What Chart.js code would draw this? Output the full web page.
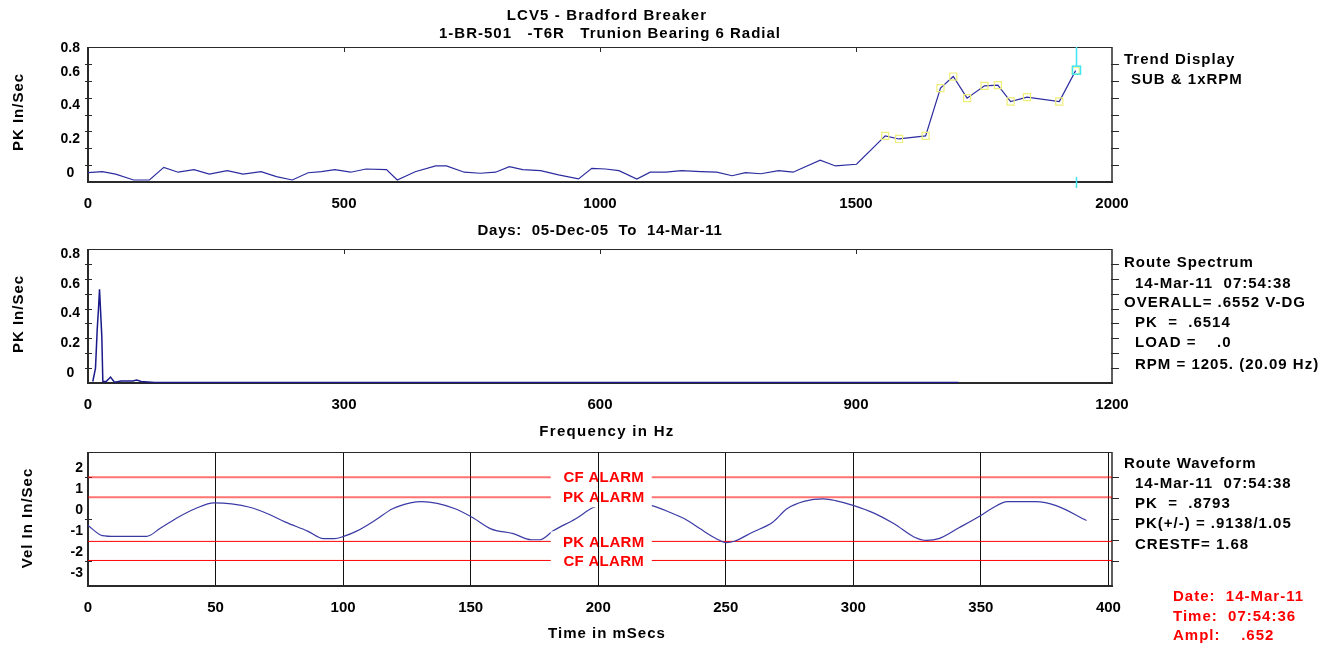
<!DOCTYPE html>
<html><head><meta charset="utf-8">
<script src="https://cdn.jsdelivr.net/npm/chart.js@4.4.1/dist/chart.umd.min.js"></script>
<style>
html,body{margin:0;padding:0;background:#fff;width:1334px;height:647px;overflow:hidden;}
#wrap{position:relative;width:1334px;height:647px;font-family:'Liberation Sans',Arial,sans-serif;font-weight:bold;font-size:15px;color:#000;}
canvas{position:absolute;left:0;}
.t{position:absolute;white-space:pre;line-height:18px;letter-spacing:1px;}
.c{transform:translateX(-50%);}
.r{position:absolute;white-space:pre;line-height:18px;letter-spacing:1px;transform:translate(-50%,-50%) rotate(-90deg);}
.red{color:#ff0000;}
</style></head><body><div id="wrap">
<canvas id="c1" width="1334" height="215" style="top:0px"></canvas>
<canvas id="c2" width="1334" height="190" style="top:225px"></canvas>
<canvas id="c3" width="1334" height="200" style="top:425px"></canvas>

<div class="t c" style="left:607px;top:6px;letter-spacing:1.1px">LCV5 - Bradford Breaker</div>
<div class="t c" style="left:610px;top:24px">1-BR-501   -T6R   Trunion Bearing 6 Radial</div>
<div class="t c" style="left:600px;top:221px;letter-spacing:0.7px">Days:  05-Dec-05  To  14-Mar-11</div>
<div class="t c" style="left:607px;top:422px;letter-spacing:1.3px">Frequency in Hz</div>
<div class="t c" style="left:607px;top:624px">Time in mSecs</div>

<div class="r" style="left:18px;top:112px">PK In/Sec</div>
<div class="r" style="left:18px;top:314px">PK In/Sec</div>
<div class="r" style="left:27px;top:518px">Vel In In/Sec</div>

<div class="t" style="left:1124px;top:50px">Trend Display</div>
<div class="t" style="left:1131px;top:70px">SUB &amp; 1xRPM</div>

<div class="t" style="left:1124px;top:253px">Route Spectrum</div>
<div class="t" style="left:1135px;top:274px">14-Mar-11  07:54:38</div>
<div class="t" style="left:1124px;top:293px">OVERALL= .6552 V-DG</div>
<div class="t" style="left:1135px;top:313px">PK  =  .6514</div>
<div class="t" style="left:1135px;top:333px">LOAD =    .0</div>
<div class="t" style="left:1135px;top:355px">RPM = 1205. (20.09 Hz)</div>

<div class="t" style="left:1124px;top:454px">Route Waveform</div>
<div class="t" style="left:1135px;top:474px">14-Mar-11  07:54:38</div>
<div class="t" style="left:1135px;top:494px">PK  =  .8793</div>
<div class="t" style="left:1135px;top:514px">PK(+/-) = .9138/1.05</div>
<div class="t" style="left:1135px;top:535px">CRESTF= 1.68</div>

<div class="t red" style="left:1173px;top:587px">Date:  14-Mar-11</div>
<div class="t red" style="left:1173px;top:607px">Time:  07:54:36</div>
<div class="t red" style="left:1173px;top:626px">Ampl:    .652</div>
</div>
<script>
// ---------------- DATA ----------------
const trendDays = [0,28,54,89,120,148,176,207,237,272,303,338,368,399,430,456,482,513,543,583,604,639,679,700,735,766,796,823,849,884,919,958,984,1011,1037,1072,1098,1129,1159,1197,1228,1258,1284,1314,1349,1377,1430,1460,1501,1557,1584,1636,1665,1690,1717,1751,1777,1802,1834,1897,1929];
const trendValues = [0.055,0.061,0.047,0.012,0.012,0.087,0.058,0.073,0.047,0.067,0.047,0.061,0.032,0.012,0.055,0.061,0.073,0.058,0.077,0.073,0.012,0.061,0.095,0.095,0.058,0.052,0.058,0.091,0.073,0.067,0.042,0.018,0.081,0.077,0.067,0.018,0.058,0.058,0.067,0.061,0.058,0.037,0.055,0.049,0.067,0.058,0.129,0.095,0.105,0.273,0.255,0.273,0.556,0.625,0.497,0.570,0.574,0.477,0.503,0.477,0.660];
const trendXTicks = [0,500,1000,1500,2000];
const trendYTicks = [0,0.2,0.4,0.6,0.8];
const trendMinorTicks = [0.1,0.2,0.3,0.4,0.5,0.6,0.7];

const specFreq = [5.6,8.8,10.8,12.3,13.5,14.6,16.2,17.4,21.3,26.4,31,38.9,52.5,57.2,62.3,78,1020];
const specValues = [0.01,0.10,0.36,0.50,0.63,0.50,0.31,0.01,0.01,0.04,0.005,0.013,0.013,0.02,0.01,0.003,0.003];
const specXTicks = [0,300,600,900,1200];
const specYTicks = [0,0.2,0.4,0.6,0.8];
const specMinorTicks = [0.1,0.2,0.3,0.4,0.5,0.6,0.7,0.8];

const waveT = [0,5.6,10.8,23,28,35,42,49.4,56.3,63.4,70.4,77.4,86.1,92.3,96.6,100.2,105.3,112.4,119.4,126.4,130.8,136.9,143.9,150.9,157.9,166.7,173.7,177.2,182.5,191.2,198.2,204,210,216,221,228,235,240,246.3,250.2,253.4,260.5,268.4,274,281,288.3,293,300.2,308.1,316,324,328.7,333.5,341.4,349.3,354.1,360.4,371.6,379.5,391.4];
const waveV = [-0.31,-0.79,-0.83,-0.83,-0.47,0.06,0.49,0.77,0.72,0.56,0.25,-0.15,-0.58,-0.94,-0.94,-0.83,-0.58,-0.07,0.49,0.77,0.83,0.75,0.49,0.06,-0.47,-0.70,-0.99,-0.99,-0.55,0.01,0.56,0.70,0.75,0.72,0.64,0.32,-0.07,-0.47,-0.94,-1.13,-1.06,-0.63,-0.15,0.49,0.85,0.96,0.88,0.64,0.28,-0.23,-0.87,-1.02,-0.94,-0.42,0.12,0.49,0.83,0.83,0.64,-0.07];
const alarmNames = ['CF ALARM','PK ALARM','PK ALARM','CF ALARM'];
const alarmLevels = [1.99, 1.04, -1.07, -1.98];
const waveXTicks = [0,50,100,150,200,250,300,350,400];
const waveYTicks = [-3,-2,-1,0,1,2];
const waveLeftTicks = [-2,0,2];
const waveRightTicks = [-2,-1,0,1,2];

// ---------------- SETUP ----------------
Chart.defaults.font.family = "'Liberation Sans', Arial, sans-serif";
Chart.defaults.font.size = 15;
Chart.defaults.font.weight = 'bold';
Chart.defaults.color = '#000';
Chart.defaults.animation = false;
Chart.defaults.events = [];
Chart.defaults.plugins.legend.display = false;
Chart.defaults.plugins.tooltip.enabled = false;

const pts = (xs, ys) => xs.map((x, i) => ({x, y: ys[i]}));
const fixedTicks = arr => s => { s.ticks = arr.map(v => ({value: v})); };
const fmt1 = v => v === 0 ? '0' : v.toFixed(1);

function xScale(min, max, ticks, axisH, grid) {
  return {
    type: 'linear', min, max,
    afterBuildTicks: fixedTicks(ticks),
    afterFit: s => { s.height = axisH; },
    ticks: {autoSkip: false, maxRotation: 0, padding: 13, includeBounds: false, callback: v => String(v)},
    grid: grid || {display: false, drawTicks: false},
    border: {display: false}
  };
}
function yScale(min, max, ticks, fmt, crossAlign, pad, offset) {
  return {
    type: 'linear', min, max,
    afterBuildTicks: fixedTicks(ticks),
    afterFit: s => { s.width = 88; },
    ticks: {callback: fmt, crossAlign, padding: pad, labelOffset: offset, autoSkip: false, font: {size: 14}},
    grid: {display: false, drawTicks: false},
    border: {display: false}
  };
}

const framePlugin = {
  id: 'frame',
  beforeDatasetsDraw(chart, args, o) {
    const {ctx, chartArea: a, scales: {x, y}} = chart;
    ctx.save();
    ctx.strokeStyle = '#2a2a2a';
    ctx.lineWidth = 1;
    ctx.beginPath(); ctx.moveTo(a.left, a.top + 0.5); ctx.lineTo(a.right, a.top + 0.5); ctx.stroke();
    ctx.lineWidth = 1.5;
    ctx.beginPath(); ctx.moveTo(a.right, a.top); ctx.lineTo(a.right, a.bottom); ctx.stroke();
    ctx.lineWidth = 2;
    ctx.beginPath(); ctx.moveTo(a.left, a.top); ctx.lineTo(a.left, a.bottom + 1); ctx.stroke();
    ctx.beginPath(); ctx.moveTo(a.left, a.bottom); ctx.lineTo(a.right + 1, a.bottom); ctx.stroke();
    ctx.lineWidth = 1;
    ctx.beginPath();
    (o.left || []).forEach(v => { const p = Math.round(y.getPixelForValue(v)) + 0.5; ctx.moveTo(a.left - 3, p); ctx.lineTo(a.left + 4, p); });
    (o.right || []).forEach(v => { const p = Math.round(y.getPixelForValue(v)) + 0.5; ctx.moveTo(a.right - 1, p); ctx.lineTo(a.right + 7, p); });
    (o.top || []).forEach(v => { const p = Math.round(x.getPixelForValue(v)) + 0.5; ctx.moveTo(p, a.top); ctx.lineTo(p, a.top + 5); });
    ctx.stroke();
    // top-of-axis label that the original clamps inside the frame
    if (o.topLabel) {
      const yl = chart.scales.y;
      ctx.font = "bold 14px 'Liberation Sans', Arial, sans-serif";
      ctx.fillStyle = '#000'; ctx.textAlign = 'center'; ctx.textBaseline = 'middle';
      const w = ctx.measureText(o.topLabel).width;
      ctx.fillText(o.topLabel, yl.right - 8 - w / 2, a.top + 1);
    }
    ctx.restore();
  },
  afterDatasetsDraw(chart, args, o) {
    const {ctx, chartArea: a, scales: {x, y}} = chart;
    ctx.save();
    if (o.alarms) {
      const cx = x.getPixelForValue(o.alarmAt);
      ctx.font = "bold 15px 'Liberation Sans', Arial, sans-serif";
      if ('letterSpacing' in ctx) ctx.letterSpacing = '0.3px';
      ctx.textAlign = 'center'; ctx.textBaseline = 'middle';
      o.alarms.forEach((lv, i) => {
        const py = y.getPixelForValue(lv);
        ctx.fillStyle = '#fff';
        ctx.fillRect(cx - 50, py - 10, 101, 20);
        ctx.fillStyle = '#ff0000';
        ctx.fillText(o.names[i], cx + 3, py + 1);
      });
    }
    if (o.vgrid) {
      ctx.strokeStyle = '#111'; ctx.lineWidth = 1;
      ctx.beginPath();
      o.vgrid.forEach(v => { const p = Math.round(x.getPixelForValue(v)) + 0.5; ctx.moveTo(p, a.top); ctx.lineTo(p, a.bottom); });
      ctx.stroke();
    }
    if (o.marker !== undefined) {
      const el = chart.getDatasetMeta(0).data[o.marker];
      const px = Math.round(el.x) + 0.5, py = el.y;
      ctx.strokeStyle = '#3fe6f2'; ctx.lineWidth = 1.5;
      ctx.beginPath();
      ctx.moveTo(px, a.top); ctx.lineTo(px, py - 5);
      ctx.moveTo(px, a.bottom - 5); ctx.lineTo(px, a.bottom + 6);
      ctx.stroke();
      ctx.strokeRect(px - 4, py - 4.5, 8, 8);
    }
    ctx.restore();
  }
};

// ---------------- CHART 1: trend ----------------
const trendTopLabel = fmt1(trendYTicks[trendYTicks.length - 1]);
new Chart(document.getElementById('c1'), {
  type: 'line',
  data: {datasets: [{
    data: pts(trendDays, trendValues),
    borderColor: '#2c2ca0', borderWidth: 1.2, tension: 0,
    pointStyle: 'rect',
    pointRadius: c => trendDays[c.dataIndex] >= 1550 ? 5 : 0,
    pointBorderColor: '#eeee7a', pointBackgroundColor: 'rgba(0,0,0,0)', pointBorderWidth: 1.2
  }]},
  options: {
    responsive: false, devicePixelRatio: 1,
    layout: {padding: {top: 47, right: 222, left: 0, bottom: 0}},
    scales: {
      x: xScale(0, 2000, trendXTicks, 33),
      y: yScale(0, 0.8, trendYTicks, v => (fmt1(v) === trendTopLabel ? '' : fmt1(v)), 'center', 8, -9)
    },
    plugins: {frame: {left: trendMinorTicks, right: trendMinorTicks, top: [500, 1000, 1500], marker: trendDays.length - 1, topLabel: trendTopLabel}}
  },
  plugins: [framePlugin]
});

// ---------------- CHART 2: spectrum ----------------
new Chart(document.getElementById('c2'), {
  type: 'line',
  data: {datasets: [{
    data: pts(specFreq, specValues),
    borderColor: '#1a1a8a', borderWidth: 1.5, tension: 0, pointRadius: 0
  }]},
  options: {
    responsive: false, devicePixelRatio: 1,
    layout: {padding: {top: 24, right: 222, left: 0, bottom: 0}},
    scales: {
      x: xScale(0, 1200, specXTicks, 32),
      y: yScale(0, 0.9, specYTicks, fmt1, 'center', 8, -10)
    },
    plugins: {frame: {left: specMinorTicks, right: specMinorTicks, top: [300, 600, 900]}}
  },
  plugins: [framePlugin]
});

// ---------------- CHART 3: waveform ----------------
const alarmColors = ['rgba(255,0,0,0.55)', 'rgba(255,0,0,0.55)', '#ff0000', '#ff0000'];
const alarmWidths = [2, 2, 1, 1];
new Chart(document.getElementById('c3'), {
  type: 'line',
  data: {datasets: [
    {data: pts(waveT, waveV), borderColor: '#3b3ba6', borderWidth: 1.2, pointRadius: 0, cubicInterpolationMode: 'monotone'}
  ].concat(alarmLevels.map((lv, i) => ({
    data: [{x: 0, y: lv}, {x: 401.4, y: lv}],
    borderColor: alarmColors[i], borderWidth: alarmWidths[i], pointRadius: 0
  })))},
  options: {
    responsive: false, devicePixelRatio: 1,
    layout: {padding: {top: 27, right: 222, left: 0, bottom: 0}},
    scales: {
      x: xScale(0, 401.4, waveXTicks, 39, {display: true, color: '#111', lineWidth: 1, drawTicks: false}),
      y: yScale(-3.2, 3.2, waveYTicks, v => String(v), 'near', 5, -9)
    },
    plugins: {frame: {left: waveLeftTicks, right: waveRightTicks, alarms: alarmLevels, names: alarmNames, alarmAt: 201, vgrid: [200]}}
  },
  plugins: [framePlugin]
});
</script>
</body></html>
